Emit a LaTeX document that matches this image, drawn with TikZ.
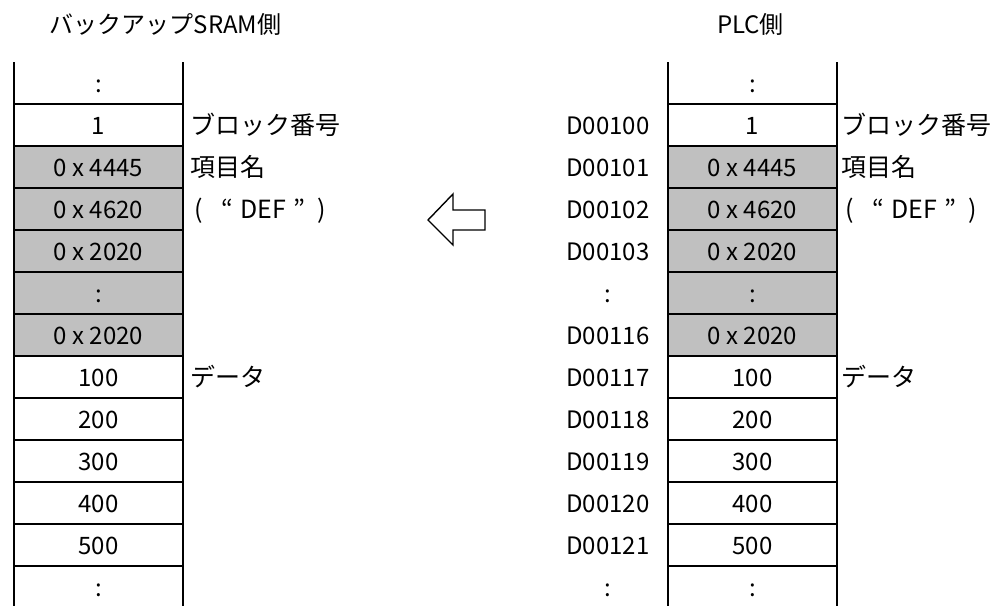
\documentclass[tikz,border=0pt]{standalone}
\usepackage{fontspec}
\setmainfont{Noto Sans CJK JP}
\definecolor{cellgray}{HTML}{C0C0C0}
\tikzset{
  lbl/.style={inner sep=0pt, text height=18pt, text depth=0pt, font=\fontsize{24}{28}\selectfont},
  note/.style={lbl, anchor=west, font=\fontsize{25}{29}\selectfont},
  vline/.style={line width=1.8pt},
  hline/.style={line width=1.5pt},
}
\newcommand{\defname}{(\hspace{0.75em}“\hspace{0.3em}DEF\hspace{0.3em}”\hspace{0.45em})}
\begin{document}
\begin{tikzpicture}[x=1pt, y=-1pt]
    \useasboundingbox (0,0) rectangle (1008,606);
    % 見出し
    \node[lbl] (hsram) at (165.5,24) {バックアップSRAM側};
    \node[lbl] (hplc) at (750.5,24) {PLC側};
    
    % 項目名の行は灰色
    \fill[cellgray] (14,146) rectangle (183,356);
    \fill[cellgray] (668,146) rectangle (837,356);
    
    % 罫線（上下は開いたまま）
    \foreach \xa/\xb in {14/183, 668/837} {
        \draw[vline] (\xa,62) -- (\xa,606);
        \draw[vline] (\xb,62) -- (\xb,606);
        \foreach \k in {0,...,11}
            \draw[hline] (\xa,{104+42*\k}) -- (\xb,{104+42*\k});
    }
    
    % セルの値
    \foreach \val [count=\i from 0] in {:,1,0 x 4445,0 x 4620,0 x 2020,:,0 x 2020,100,200,300,400,500,:} {
        \node[lbl] (sram\i) at (98.5,{83+42*\i}) {\val};
        \node[lbl] (plc\i) at (752.5,{83+42*\i}) {\val};
    }
    
    % PLC側のアドレス
    \foreach \adr [count=\i from 1] in {D00100,D00101,D00102,D00103,:,D00116,D00117,D00118,D00119,D00120,D00121,:}
        \node[lbl] (adr\i) at (608,{83+42*\i}) {\adr};
    
    % 説明
    \node[note] (blkL) at (190,125) {ブロック番号};
    \node[note] (itmL) at (190,167) {項目名};
    \node[note] (defL) at (194,209) {\defname};
    \node[note] (datL) at (190,377) {データ};
    \node[note] (blkR) at (841,125) {ブロック番号};
    \node[note] (itmR) at (841,167) {項目名};
    \node[note] (defR) at (845,209) {\defname};
    \node[note] (datR) at (841,377) {データ};
    
    % 白抜きの矢印（PLC側 → SRAM側）
    \draw[line width=1.4pt] (428,220) -- (453,194) -- (453,210) -- (485,210)
        -- (485,230) -- (453,230) -- (453,245) -- cycle;
\end{tikzpicture}
\end{document}
